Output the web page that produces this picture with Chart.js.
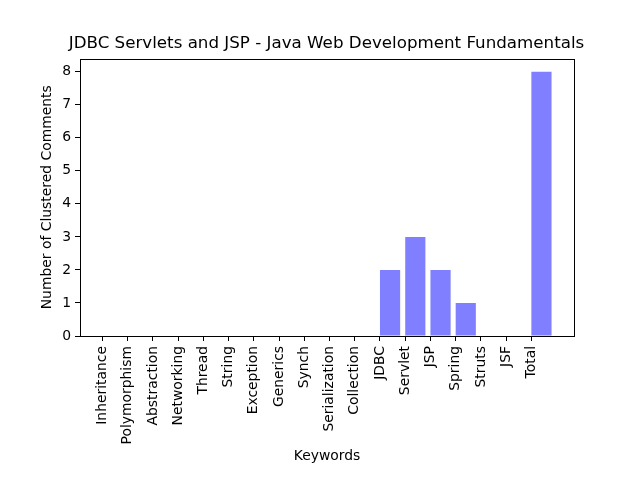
<!DOCTYPE html>
<html>
<head>
<meta charset="utf-8">
<script src="https://cdn.jsdelivr.net/npm/chart.js@4/dist/chart.umd.min.js"></script>
<style>
html,body{margin:0;padding:0;background:#fff;}
canvas{display:block;}
</style>
</head>
<body>
<canvas id="c" width="640" height="480"></canvas>
<script>
const categories = ["Inheritance","Polymorphism","Abstraction","Networking","Thread","String","Exception","Generics","Synch","Serialization","Collection","JDBC","Servlet","JSP","Spring","Struts","JSF","Total"];
const counts = [0,0,0,0,0,0,0,0,0,0,0,2,3,2,1,0,0,8];
const yTicks = [0,1,2,3,4,5,6,7,8];

Chart.defaults.font.family = "'DejaVu Sans', sans-serif";
Chart.defaults.color = '#000';

const boxPlugin = {
  id: 'box',
  beforeDraw(chart) {
    const ctx = chart.ctx;
    ctx.save();
    ctx.fillStyle = '#fff';
    ctx.fillRect(0, 0, chart.width, chart.height);
    ctx.restore();
  },
  afterDraw(chart) {
    const a = chart.chartArea, ctx = chart.ctx;
    ctx.save();
    ctx.strokeStyle = '#000';
    ctx.lineWidth = 1;
    ctx.strokeRect(Math.round(a.left) + 0.5, Math.round(a.top) + 0.5, Math.round(a.right - a.left), Math.round(a.bottom - a.top));
    ctx.restore();
  }
};

new Chart(document.getElementById('c'), {
  type: 'bar',
  data: {
    datasets: [{
      data: categories.map((c, i) => ({x: i + 0.4, y: counts[i]})),
      backgroundColor: 'rgba(0,0,255,0.5)',
      borderWidth: 0,
      barPercentage: 0.8,
      categoryPercentage: 1.0
    }]
  },
  options: {
    responsive: false,
    animation: false,
    devicePixelRatio: 1,
    layout: {padding: {left: 13, right: 0, top: 0, bottom: 0}},
    plugins: {
      legend: {display: false},
      tooltip: {enabled: false},
      title: {
        display: true,
        text: 'JDBC Servlets and JSP - Java Web Development Fundamentals',
        font: {size: 16.7, weight: 'normal'},
        color: '#000',
        padding: {top: 34, bottom: 4.5}
      }
    },
    scales: {
      x: {
        type: 'linear',
        offset: false,
        min: -0.89,
        max: 18.69,
        border: {display: false},
        grid: {display: true, drawOnChartArea: false, drawTicks: true, tickLength: 5, tickColor: '#000', offset: false},
        afterBuildTicks(scale) { scale.ticks = categories.map((c, i) => ({value: i})); },
        afterFit(scale) { scale.height = 144; },
        ticks: {
          autoSkip: false,
          minRotation: 90,
          maxRotation: 90,
          padding: 5,
          font: {size: 13.9},
          callback: (v) => categories[v]
        },
        title: {display: true, text: 'Keywords', font: {size: 13.9}, padding: {top: 0, bottom: 15}}
      },
      y: {
        min: 0,
        max: 8.4,
        border: {display: false},
        grid: {display: true, drawOnChartArea: false, drawTicks: true, tickLength: 5, tickColor: '#000'},
        afterBuildTicks(scale) { scale.ticks = yTicks.map(v => ({value: v})); },
        afterFit(scale) { scale.width = 67; },
        ticks: {padding: 4, font: {size: 13.9}},
        title: {display: true, text: 'Number of Clustered Comments', font: {size: 13.9}, padding: {top: 26, bottom: 0}}
      },
      yRight: {
        type: 'linear',
        position: 'right',
        min: 0,
        max: 8.4,
        display: true,
        border: {display: false},
        grid: {display: false},
        ticks: {display: false},
        afterFit(scale) { scale.width = 66; }
      }
    }
  },
  plugins: [boxPlugin]
});
</script>
</body>
</html>
